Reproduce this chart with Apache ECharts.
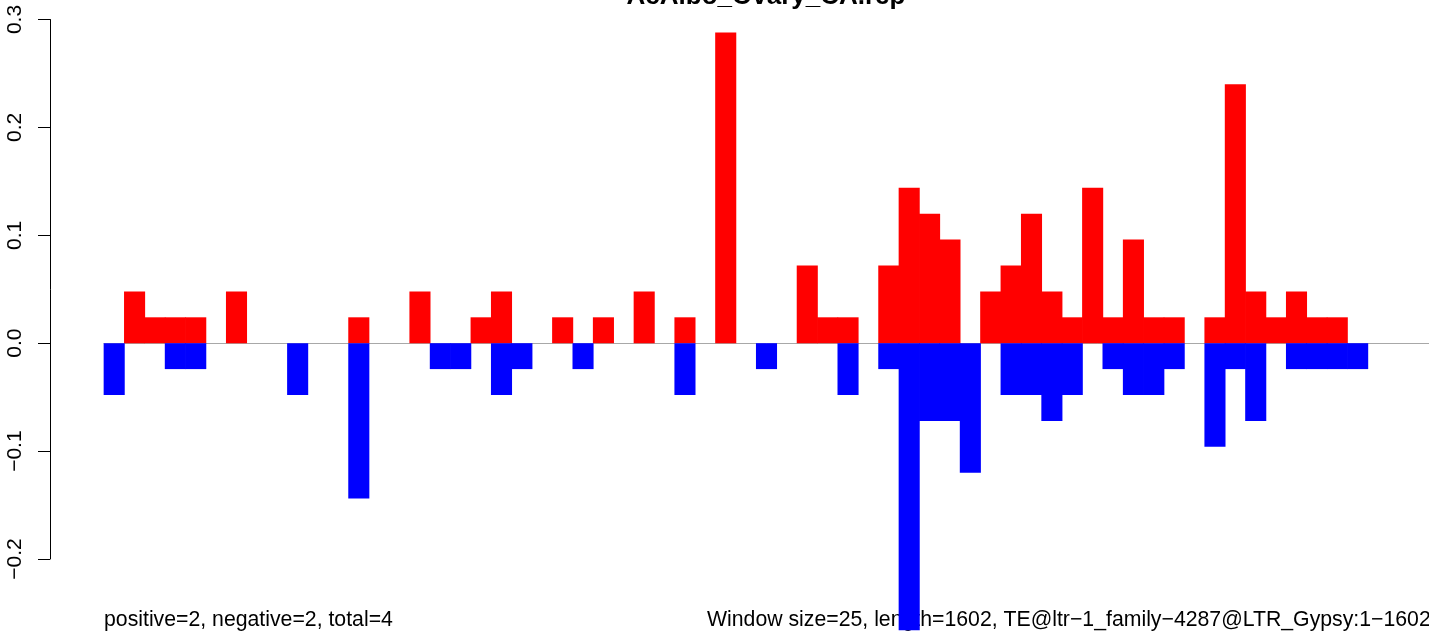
<!DOCTYPE html>
<html>
<head>
<meta charset="utf-8">
<script src="https://cdn.jsdelivr.net/npm/echarts@6/dist/echarts.min.js"></script>
<style>
html,body{margin:0;padding:0;background:#fff;}
#chart{width:1429px;height:634px;}
</style>
</head>
<body>
<div id="chart"></div>
<script>
// window indices (25 bp windows over 1602 bp)
const windows = [];
for (let i = 0; i < 65; i++) windows.push(String(i + 1));

const positiveValues = [
  0, 0.048, 0.024, 0.024, 0.024, 0, 0.048, 0, 0, 0,
  0, 0, 0.024, 0, 0, 0.048, 0, 0, 0.024, 0.048,
  0, 0, 0.024, 0, 0.024, 0, 0.048, 0, 0.024, 0,
  0.288, 0, 0, 0, 0.072, 0.024, 0.024, 0, 0.072, 0.144,
  0.12, 0.096, 0, 0.048, 0.072, 0.12, 0.048, 0.024, 0.144, 0.024,
  0.096, 0.024, 0.024, 0, 0.024, 0.24, 0.048, 0.024, 0.048, 0.024,
  0.024, 0, 0, 0, 0
];

const negativeValues = [
  -0.048, 0, 0, -0.024, -0.024, 0, 0, 0, 0, -0.048,
  0, 0, -0.144, 0, 0, 0, -0.024, -0.024, 0, -0.048,
  -0.024, 0, 0, -0.024, 0, 0, 0, 0, -0.048, 0,
  0, 0, -0.024, 0, 0, 0, -0.048, 0, -0.024, -0.266,
  -0.072, -0.072, -0.12, 0, -0.048, -0.048, -0.072, -0.048, 0, -0.024,
  -0.048, -0.048, -0.024, 0, -0.096, -0.024, -0.072, 0, -0.024, -0.024,
  -0.024, -0.024, 0, 0, 0
];

const yTicks = { min: -0.2, max: 0.3, interval: 0.1 };

const titleText = 'AcAlbo_Ovary_CA.rep';
const leftNote = 'positive=2, negative=2, total=4';
const rightNote = 'Window size=25, length=1602, TE@ltr\u22121_family\u22124287@LTR_Gypsy:1\u22121602';

const FONT = '"Liberation Sans", Arial, Helvetica, sans-serif';

// [windowIndex, value] pairs for non-empty windows
const toItems = arr => arr.map((v, i) => [i, v]).filter(d => d[1] !== 0);

// full-width bars through the axis scales, slightly overlapped to avoid seams
function makeRender(color) {
  return function (params, api) {
    const idx = api.value(0);
    const val = api.value(1);
    const base = api.coord([idx, 0]);
    const top = api.coord([idx, val]);
    const w = api.size([1, 0])[0];
    const y0 = Math.min(base[1], top[1]);
    const h = Math.abs(base[1] - top[1]);
    return {
      type: 'rect',
      shape: { x: base[0] - w / 2 - 0.35, y: y0, width: w + 0.7, height: h },
      style: { fill: color }
    };
  };
}

const chart = echarts.init(document.getElementById('chart'), null, { renderer: 'canvas' });
chart.setOption({
  animation: false,
  backgroundColor: '#ffffff',
  grid: { left: 104, top: 19.5, width: 1328.6, height: 539.5, containLabel: false },
  xAxis: {
    type: 'category',
    data: windows,
    boundaryGap: true,
    axisLine: { show: true, onZero: true, lineStyle: { color: '#a8a8a8', width: 1 } },
    axisTick: { show: false },
    axisLabel: { show: false },
    splitLine: { show: false },
    z: 0
  },
  yAxis: {
    type: 'value',
    min: yTicks.min,
    max: yTicks.max,
    interval: yTicks.interval,
    position: 'left',
    offset: 54,
    axisLine: { show: true, lineStyle: { color: '#000', width: 1 } },
    axisTick: { show: true, inside: false, length: 12, lineStyle: { color: '#000', width: 1 } },
    axisLabel: {
      show: true,
      rotate: 90,
      margin: 24,
      fontFamily: FONT,
      fontSize: 21,
      color: '#000',
      formatter: v => {
        const s = Math.abs(v) < 1e-9 ? '0.0' : v.toFixed(1);
        return s.replace('-', '\u2212');
      }
    },
    splitLine: { show: false }
  },
  series: [
    {
      name: 'positive',
      type: 'custom',
      data: toItems(positiveValues),
      encode: { x: 0, y: 1 },
      renderItem: makeRender('#ff0000'),
      clip: false,
      z: 3
    },
    {
      name: 'negative',
      type: 'custom',
      data: toItems(negativeValues),
      encode: { x: 0, y: 1 },
      renderItem: makeRender('#0000ff'),
      clip: false,
      z: 3
    }
  ],
  graphic: [
    {
      type: 'text', x: 766, y: -3, z: 1,
      style: { text: titleText, font: 'bold 26px ' + FONT, fill: '#000', textAlign: 'center', textVerticalAlign: 'middle' }
    },
    {
      type: 'text', x: 104, y: 620, z: 1,
      style: { text: leftNote, font: '21.25px ' + FONT, fill: '#000', textAlign: 'left', textVerticalAlign: 'middle' }
    },
    {
      type: 'text', x: 707, y: 620, z: 1,
      style: { text: rightNote, font: '21.25px ' + FONT, fill: '#000', textAlign: 'left', textVerticalAlign: 'middle' }
    }
  ]
});
</script>
</body>
</html>
